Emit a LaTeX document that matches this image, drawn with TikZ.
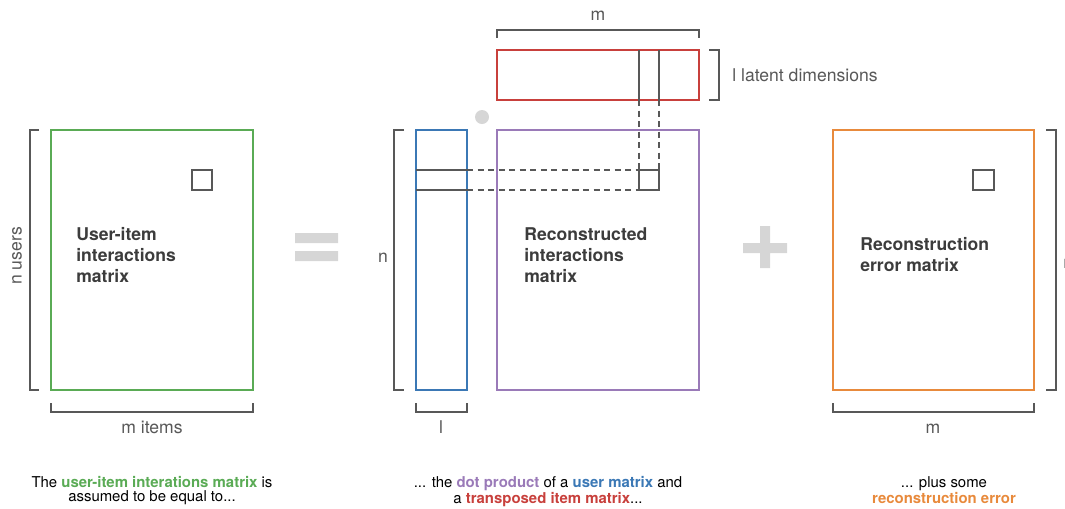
\documentclass[tikz,border=0pt]{standalone}
\usepackage{fontspec}
\setmainfont{TeX Gyre Heros}
\usetikzlibrary{positioning,calc}
\definecolor{usergreen}{RGB}{90,171,85}
\definecolor{userblue}{RGB}{59,120,181}
\definecolor{recpurple}{RGB}{154,122,184}
\definecolor{itemred}{RGB}{200,64,60}
\definecolor{errorange}{RGB}{232,138,60}
\definecolor{brkgray}{RGB}{88,88,88}
\definecolor{titlegray}{RGB}{60,60,60}
\definecolor{opgray}{RGB}{214,214,214}
\tikzset{
  mat/.style={line width=1.6pt},
  brk/.style={brkgray,line width=0.8pt},
  cell/.style={brkgray,line width=0.8pt},
  link/.style={brkgray,line width=0.8pt,dash pattern=on 3.5pt off 2.5pt},
  dimlbl/.style={text=brkgray,inner sep=0pt,font=\fontsize{10}{12}\selectfont},
  mattitle/.style={text=titlegray,inner sep=0pt,anchor=north west,align=left,
    font=\fontsize{10}{12}\selectfont\bfseries},
  caption/.style={text=black,inner sep=0pt,anchor=north,align=center,
    font=\fontsize{8.5}{7.7}\selectfont}
}

\begin{document}
\begin{tikzpicture}[x=0.02cm,y=-0.02cm]
  \useasboundingbox (0,0) rectangle (1065,508);
  % user-item interactions matrix
  \draw[mat,usergreen] (51,130) rectangle (253,390);
  \draw[cell] (192,170) rectangle (212,190);
  \draw[brk] (39,130) -- (30,130) -- (30,390) -- (39,390);
  \draw[brk] (51,403) -- (51,412) -- (253,412) -- (253,403);
  \node[dimlbl,rotate=90] (nusers) at (17,256) {n users};
  \node[dimlbl,anchor=base] (mitems) at (152,433) {m items};
  \node[mattitle] (uititle) at (76,227) {User-item\\interactions\\matrix};
  % equals sign
  \fill[opgray] (295,233) rectangle (338,243) (295,251) rectangle (338,261);
  % user matrix
  \draw[mat,userblue] (416,130) rectangle (467,390);
  \draw[cell] (416,170) -- (467,170) (416,190) -- (467,190);
  \draw[brk] (404,130) -- (394,130) -- (394,390) -- (404,390);
  \draw[brk] (416,403) -- (416,412) -- (467,412) -- (467,403);
  \node[dimlbl] (nuser) at (383,258) {n};
  \node[dimlbl,anchor=base] (luser) at (441,433) {l};
  % dot
  \fill[opgray] (482,117) circle (7);
  % transposed item matrix
  \draw[mat,itemred] (497,50) rectangle (699,100);
  \draw[cell] (639,50) -- (639,100) (659,50) -- (659,100);
  \draw[brk] (497,38) -- (497,30) -- (699,30) -- (699,38);
  \draw[brk] (709,50) -- (719,50) -- (719,100) -- (709,100);
  \node[dimlbl,anchor=base] (mitem) at (598,20) {m};
  \node[dimlbl,anchor=base west] (latent) at (732,81) {l latent dimensions};
  % reconstructed interactions matrix
  \draw[mat,recpurple] (497,130) rectangle (699,390);
  \draw[cell] (639,170) rectangle (659,190);
  \node[mattitle] (rectitle) at (524,227) {Reconstructed\\interactions\\matrix};
  % dashed links
  \coordinate (rowtop) at (467,170);
  \coordinate (rowbot) at (467,190);
  \coordinate (colleft) at (639,100);
  \coordinate (colright) at (659,100);
  \coordinate (celltl) at (639,170);
  \coordinate (celltr) at (659,170);
  \coordinate (cellbl) at (639,190);
  \draw[link] (rowtop) -- (celltl);
  \draw[link] (rowbot) -- (cellbl);
  \draw[link] (colleft) -- (celltl);
  \draw[link] (colright) -- (celltr);
  % plus sign
  \fill[opgray] (760,226) rectangle (770,268) (743,243) rectangle (787,253);
  % reconstruction error matrix
  \draw[mat,errorange] (833,130) rectangle (1034,390);
  \draw[cell] (973,170) rectangle (994,190);
  \draw[brk] (1046,130) -- (1056,130) -- (1056,390) -- (1046,390);
  \draw[brk] (833,403) -- (833,412) -- (1034,412) -- (1034,403);
  \node[dimlbl,anchor=west] (nerr) at (1063,264) {n};
  \node[dimlbl,anchor=base] (merr) at (933,433) {m};
  \node[mattitle] (errtitle) at (860,237) {Reconstruction\\error matrix};
  % captions
  \node[caption] (capleft) at (152,476)
    {The \textcolor{usergreen}{\bfseries user-item interations matrix} is\\assumed to be equal to...};
  \node[caption] (capmid) at (548,476)
    {... the \textcolor{recpurple}{\bfseries dot product} of a \textcolor{userblue}{\bfseries user matrix} and\\a \textcolor{itemred}{\bfseries transposed item matrix}...};
  \node[caption] (capright) at (944,476)
    {... plus some\\\textcolor{errorange}{\bfseries reconstruction error}};
\end{tikzpicture}
\end{document}
